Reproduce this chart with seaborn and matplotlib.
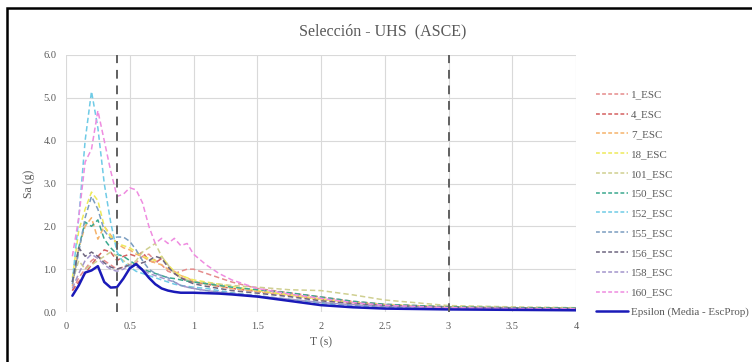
import matplotlib
matplotlib.use("Agg")
import matplotlib.pyplot as plt
import seaborn as sns
import pandas as pd
from matplotlib.patches import Rectangle
from matplotlib.lines import Line2D

# ---- data ----
periods = [0.05, 0.1, 0.15, 0.2, 0.25, 0.3, 0.35, 0.4, 0.45, 0.5, 0.55, 0.6, 0.65, 0.7,
           0.75, 0.8, 0.85, 0.9, 0.95, 1.0, 1.1, 1.2, 1.3, 1.5, 1.75, 2.0, 2.25, 2.5,
           3.0, 3.5, 4.0]

esc_1 = [0.5, 0.8, 1.0, 1.2, 1.3, 1.2, 1.1, 1.0, 1.05, 1.1, 1.15, 1.3, 1.35, 1.2, 1.1, 0.95,
         0.9, 0.95, 1.0, 1.0, 0.9, 0.8, 0.7, 0.55, 0.45, 0.35, 0.25, 0.18, 0.12, 0.1, 0.08]
esc_4 = [0.5, 0.7, 0.9, 1.1, 1.3, 1.45, 1.4, 1.2, 1.3, 1.35, 1.3, 1.4, 1.2, 1.15, 1.25, 1.1,
         0.9, 0.8, 0.75, 0.7, 0.65, 0.6, 0.55, 0.48, 0.4, 0.3, 0.22, 0.16, 0.11, 0.09, 0.08]
esc_7 = [0.6, 1.5, 2.0, 2.2, 1.7, 2.0, 1.8, 1.6, 1.5, 1.45, 1.35, 1.3, 1.2, 1.15, 1.1, 1.0,
         0.95, 0.85, 0.8, 0.72, 0.65, 0.6, 0.55, 0.48, 0.38, 0.28, 0.2, 0.15, 0.11, 0.09, 0.08]
esc_18 = [0.8, 1.9, 2.4, 2.8, 2.6, 2.0, 1.75, 1.6, 1.55, 1.5, 1.4, 1.3, 1.25, 1.2, 1.3, 1.1,
          0.95, 0.85, 0.8, 0.75, 0.7, 0.65, 0.6, 0.5, 0.4, 0.3, 0.22, 0.17, 0.12, 0.1, 0.09]
esc_101 = [0.7, 1.2, 1.0, 1.1, 1.2, 1.3, 1.4, 1.3, 1.2, 1.1, 1.2, 1.4, 1.5, 1.6, 1.3, 1.1,
           0.9, 0.8, 0.75, 0.7, 0.68, 0.65, 0.62, 0.58, 0.52, 0.5, 0.4, 0.28, 0.15, 0.12, 0.1]
esc_150 = [0.7, 1.5, 2.1, 2.0, 2.15, 1.7, 1.5, 1.35, 1.3, 1.2, 1.1, 1.0, 0.95, 0.9, 0.85, 0.8,
           0.78, 0.75, 0.72, 0.7, 0.66, 0.62, 0.58, 0.52, 0.45, 0.35, 0.25, 0.18, 0.12, 0.1, 0.09]
esc_152 = [0.7, 2.2, 4.0, 5.15, 4.3, 3.0, 2.1, 1.4, 1.15, 1.05, 0.95, 0.9, 0.85, 0.8, 0.75, 0.7,
           0.65, 0.62, 0.6, 0.58, 0.55, 0.5, 0.45, 0.38, 0.28, 0.2, 0.15, 0.12, 0.09, 0.07, 0.06]
esc_155 = [0.65, 1.4, 2.2, 2.7, 2.4, 1.9, 1.7, 1.75, 1.75, 1.65, 1.45, 1.2, 1.0, 0.9, 0.85, 0.8,
           0.7, 0.62, 0.58, 0.55, 0.5, 0.47, 0.44, 0.38, 0.3, 0.22, 0.16, 0.12, 0.09, 0.07, 0.06]
esc_156 = [0.7, 1.5, 1.3, 1.4, 1.3, 1.15, 1.05, 1.0, 1.05, 1.1, 1.1, 1.15, 1.2, 1.3, 1.25, 1.05,
           0.9, 0.8, 0.72, 0.66, 0.6, 0.55, 0.5, 0.44, 0.36, 0.26, 0.2, 0.15, 0.11, 0.09, 0.08]
esc_158 = [0.55, 0.9, 1.2, 1.35, 1.25, 1.1, 1.0, 0.95, 1.0, 1.1, 1.05, 1.0, 0.9, 0.85, 0.8, 0.75,
           0.7, 0.62, 0.58, 0.55, 0.5, 0.46, 0.43, 0.37, 0.3, 0.22, 0.17, 0.13, 0.1, 0.08, 0.07]
esc_160 = [1.3, 2.2, 3.5, 3.8, 4.7, 4.0, 3.3, 2.7, 2.75, 2.9, 2.85, 2.55, 2.0, 1.6, 1.72, 1.6,
           1.72, 1.55, 1.6, 1.35, 1.1, 0.9, 0.75, 0.55, 0.42, 0.32, 0.22, 0.16, 0.1, 0.08, 0.07]
epsilon = [0.38, 0.62, 0.92, 0.97, 1.07, 0.7, 0.57, 0.58, 0.78, 1.02, 1.12, 0.98, 0.8, 0.65,
           0.55, 0.5, 0.47, 0.45, 0.45, 0.45, 0.44, 0.43, 0.41, 0.36, 0.26, 0.16, 0.11, 0.08,
           0.06, 0.05, 0.04]

series_names = ["1_ESC", "4_ESC", "7_ESC", "18_ESC", "101_ESC", "150_ESC", "152_ESC",
                "155_ESC", "156_ESC", "158_ESC", "160_ESC"]
series_values = [esc_1, esc_4, esc_7, esc_18, esc_101, esc_150, esc_152, esc_155,
                 esc_156, esc_158, esc_160]
epsilon_name = "Epsilon (Media - EscProp)"
vlines_T = [0.4, 3.0]

title = "Selección - UHS  (ASCE)"
xlabel = "T (s)"
ylabel = "Sa (g)"
xticks = [0, 0.5, 1, 1.5, 2, 2.5, 3, 3.5, 4]
xticklabels = ["0", "0.5", "1", "1.5", "2", "2.5", "3", "3.5", "4"]
yticks = [0, 1, 2, 3, 4, 5, 6]
yticklabels = ["0.0", "1.0", "2.0", "3.0", "4.0", "5.0", "6.0"]

colors = ["#e58c8c", "#d46060", "#f5b36b", "#eeea5a", "#cfcf90", "#3aa88e", "#6fcbe6",
          "#7a9dc0", "#6e6680", "#a395cc", "#ef8ce0"]

# ---- build long data ----
rows = []
for name, vals in zip(series_names, series_values):
    for t, v in zip(periods, vals):
        rows.append({"T": t, "Sa": v, "serie": name})
df = pd.DataFrame(rows)
df_eps = pd.DataFrame({"T": periods, "Sa": epsilon})

sns.set_theme(style="white")
plt.rcParams["font.family"] = ["Liberation Serif", "DejaVu Serif"]

fig = plt.figure(figsize=(7.52, 3.62), dpi=100)
ax = fig.add_axes([66 / 752, 1 - 312 / 362, (576 - 66) / 752, (312 - 55) / 362])

sns.lineplot(data=df, x="T", y="Sa", hue="serie", hue_order=series_names,
             palette=dict(zip(series_names, colors)), ax=ax, linewidth=1.1,
             legend=False, sort=False)
for line in ax.lines:
    line.set_linestyle((0, (3.5, 2)))
sns.lineplot(data=df_eps, x="T", y="Sa", ax=ax, color="#1a1ab8", linewidth=1.8,
             legend=False, sort=False)

for xv in vlines_T:
    ax.axvline(xv, color="#606060", linewidth=1.4, linestyle=(0, (4.5, 3.5)), zorder=5)

ax.set_xlim(0, 4)
ax.set_ylim(0, 6)
ax.set_xticks(xticks)
ax.set_xticklabels(xticklabels)
ax.set_yticks(yticks)
ax.set_yticklabels(yticklabels)
ax.grid(True, color="#d9d9d9", linewidth=0.8)
ax.set_axisbelow(True)
for s in ax.spines.values():
    s.set_visible(False)
ax.tick_params(axis="both", labelsize=7.5, colors="#595959", length=0, pad=7)
ax.set_xlabel(xlabel, fontsize=8.5, color="#595959", labelpad=4)
ax.set_ylabel(ylabel, fontsize=8.5, color="#595959", labelpad=6)

fig.text(0.5 * (66 + 700) / 752, 1 - 31 / 362, title, ha="center", va="center",
         fontsize=11.5, color="#595959")

# legend
handles = [Line2D([0], [0], color=c, linewidth=1.1, linestyle=(0, (2.5, 1.5)))
           for c in colors]
handles.append(Line2D([0], [0], color="#1a1ab8", linewidth=1.8))
labels = series_names + [epsilon_name]
fig.legend(handles, labels, loc="upper left", bbox_to_anchor=(596 / 752, 1 - 90 / 362),
           frameon=False, fontsize=7.9, handlelength=2.9, handletextpad=0.3,
           labelspacing=0.92, borderpad=0, borderaxespad=0, labelcolor="#595959")

# outer frame
fig.patches.append(Rectangle((7 / 752, -0.05), 1.2, 1.05 - 8 / 362,
                             transform=fig.transFigure, fill=False,
                             edgecolor="black", linewidth=1.8))

fig.savefig("out.png", dpi=100)
